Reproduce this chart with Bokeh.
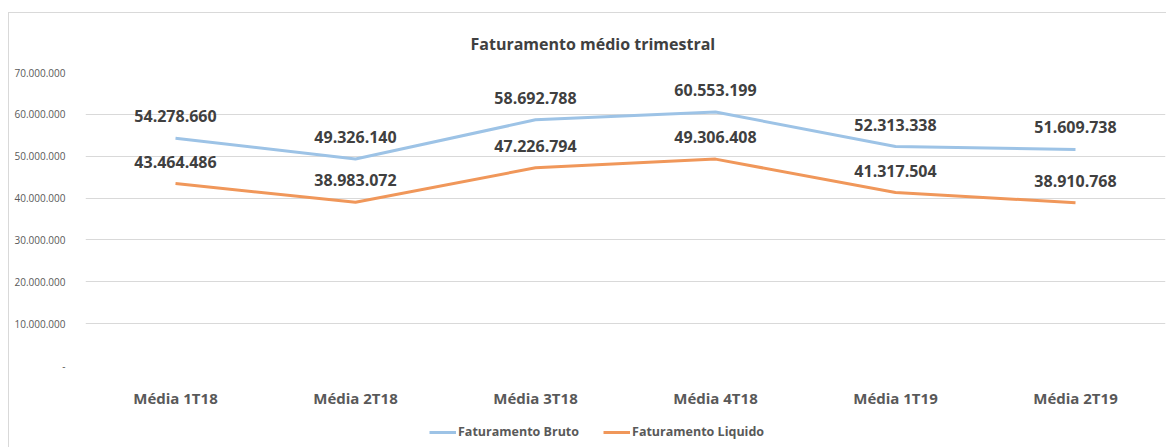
from bokeh.plotting import figure
from bokeh.layouts import column
from bokeh.models import (FactorRange, Range1d, FixedTicker, CustomJSTickFormatter,
                          Legend, LegendItem, Title, ColumnDataSource)
from bokeh.core.properties import value
from bokeh.embed import file_html
from bokeh.resources import INLINE

categories = ["Média 1T18", "Média 2T18", "Média 3T18", "Média 4T18", "Média 1T19", "Média 2T19"]
bruto = [54278660, 49326140, 58692788, 60553199, 52313338, 51609738]
liquido = [43464486, 38983072, 47226794, 49306408, 41317504, 38910768]
y_ticks = [0, 10000000, 20000000, 30000000, 40000000, 50000000, 60000000, 70000000]
series_names = ["Faturamento Bruto", "Faturamento Liquido"]

FONT = "Open Sans"
BLUE = "#9dc3e6"
ORANGE = "#f0975a"
BORDER = "#d9d9d9"


def fmt(v):
    return f"{v:,}".replace(",", ".")


p = figure(x_range=FactorRange(*categories, range_padding=0), y_range=Range1d(0, 70000000),
           width=1166, height=410, output_backend="svg", toolbar_location=None,
           min_border_left=85, min_border_right=1, min_border_top=72, min_border_bottom=44)
p.outline_line_color = None
p.border_fill_color = None
p.background_fill_color = None
p.styles = {
    "background": f"linear-gradient({BORDER},{BORDER}) 8px 12px / 1px 100% no-repeat, "
                  f"linear-gradient({BORDER},{BORDER}) 8px 12px / 100% 1px no-repeat, white"
}
p.xgrid.grid_line_color = None
p.ygrid.grid_line_color = "#d9d9d9"
p.ygrid.grid_line_width = 1

p.yaxis.ticker = FixedTicker(ticks=y_ticks)
p.yaxis.formatter = CustomJSTickFormatter(code="""
if (tick == 0) { return '-'; }
return tick.toFixed(0).replace(/\\B(?=(\\d{3})+(?!\\d))/g, '.');
""")
p.yaxis.axis_line_color = None
p.yaxis.major_tick_line_color = None
p.yaxis.minor_tick_line_color = None
p.yaxis.major_label_standoff = 14
p.yaxis.major_label_text_font = FONT
p.yaxis.major_label_text_font_size = "10px"
p.yaxis.major_label_text_color = "#595959"

p.xaxis.axis_line_color = None
p.xaxis.major_tick_line_color = None
p.xaxis.minor_tick_line_color = None
p.xaxis.major_label_standoff = 16
p.xaxis.major_label_text_font = FONT
p.xaxis.major_label_text_font_size = "15px"
p.xaxis.major_label_text_font_style = "bold"
p.xaxis.major_label_text_color = "#595959"

src = ColumnDataSource(dict(x=categories, bruto=bruto, liquido=liquido,
                            lb=[fmt(v) for v in bruto], ll=[fmt(v) for v in liquido]))

p.line("x", "bruto", source=src, line_color=BLUE, line_width=3)
p.line("x", "liquido", source=src, line_color=ORANGE, line_width=3)

for col, lab in (("bruto", "lb"), ("liquido", "ll")):
    p.text(x="x", y=col, text=lab, source=src, text_align="center", text_baseline="middle",
           y_offset=-22, text_font=value(FONT), text_font_size="16px",
           text_font_style="bold", text_color="#404040")

title = Title(text="Faturamento médio trimestral", align="left", offset=385, standoff=35,
              text_font=FONT, text_font_size="16px", text_font_style="bold",
              text_color="#404040")
p.add_layout(title, "above")

# legend strip
p2 = figure(width=1166, height=37, output_backend="svg", toolbar_location=None,
            x_axis_type=None, y_axis_type=None, x_range=Range1d(0, 1), y_range=Range1d(0, 1),
            min_border_left=0, min_border_right=0, min_border_top=0, min_border_bottom=0)
p2.outline_line_color = None
p2.border_fill_color = None
p2.background_fill_color = None
p2.grid.visible = False
p2.styles = {
    "background": f"linear-gradient({BORDER},{BORDER}) 8px 0px / 1px 100% no-repeat, white"
}
# off-range placeholder points so the legend swatches get their colours
g1 = p2.line(x=[5, 6], y=[5, 6], line_color=BLUE, line_width=3)
g2 = p2.line(x=[5, 6], y=[5, 6], line_color=ORANGE, line_width=3)

legend = Legend(items=[LegendItem(label=series_names[0], renderers=[g1]),
                       LegendItem(label=series_names[1], renderers=[g2])],
                orientation="horizontal", location=(344, 7),
                border_line_color=None, background_fill_alpha=0,
                label_text_font=FONT, label_text_font_size="12.5px", label_text_font_style="bold",
                label_text_color="#595959", glyph_width=27, glyph_height=16,
                label_standoff=2, spacing=24, padding=0, margin=0)
p2.add_layout(legend, "center")

layout = column(p, p2, spacing=0)
open("out.html", "w").write(file_html(layout, INLINE))
